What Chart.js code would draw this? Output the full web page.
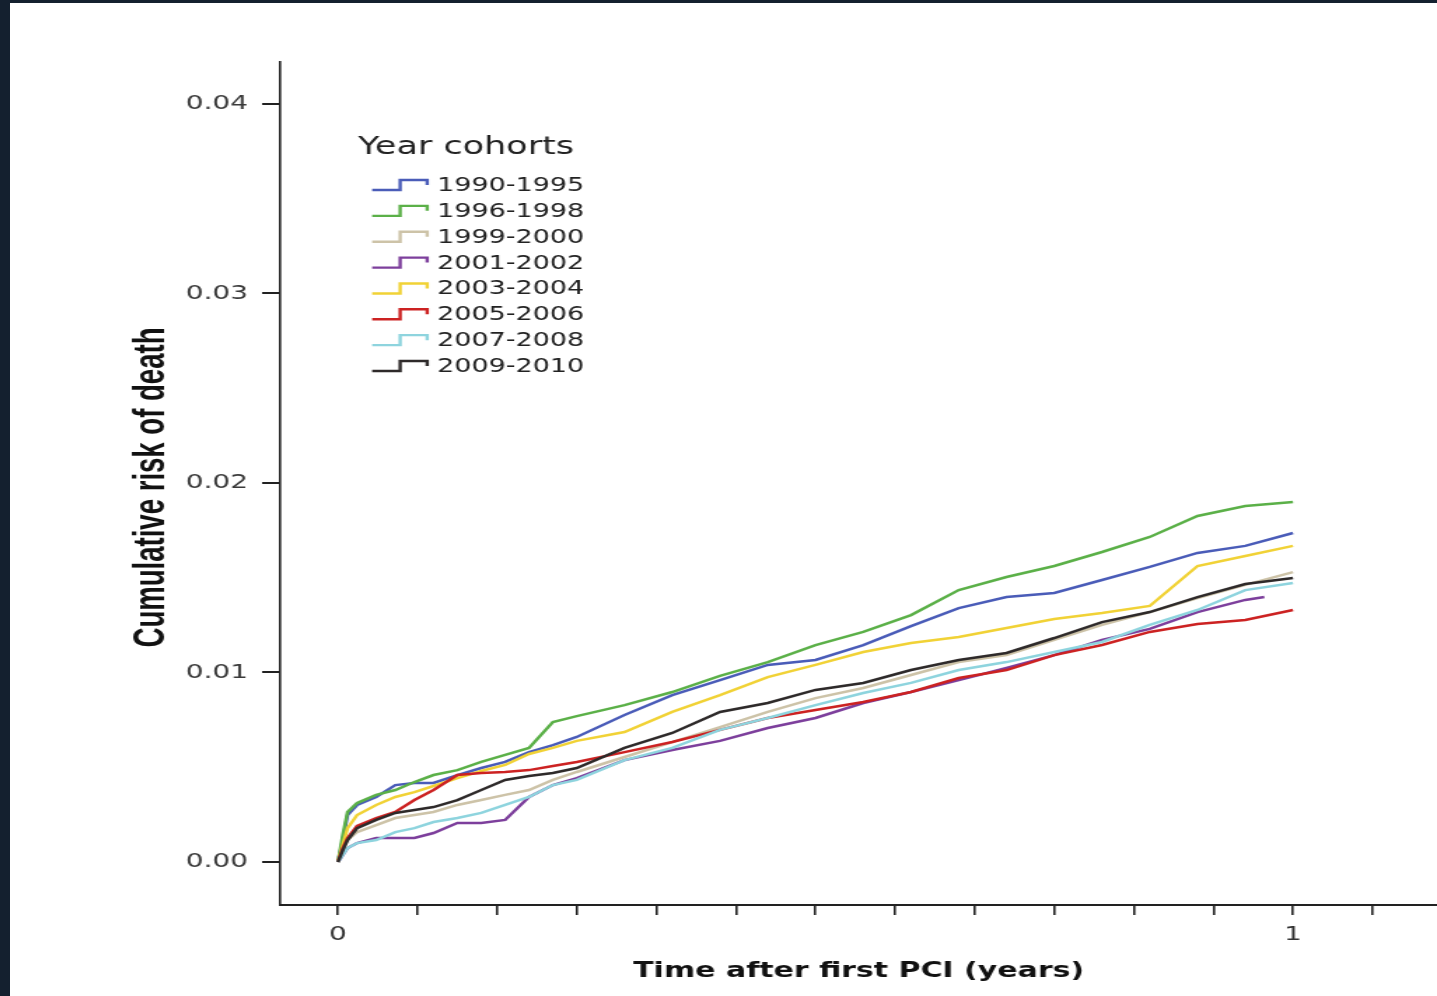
<!DOCTYPE html>
<html><head><meta charset="utf-8">
<script src="https://cdn.jsdelivr.net/npm/chart.js@4.4.1/dist/chart.umd.min.js"></script>
<style>
html,body{margin:0;padding:0;background:#14202f;width:1437px;height:996px;overflow:hidden;}
#wrap{position:absolute;left:10px;top:3px;width:1427px;height:993px;background:#fff;}
canvas{display:block;}
</style></head><body>
<div id="wrap"><canvas id="c" width="1019" height="993" style="width:1427px;height:993px;"></canvas></div>
<script>
// ---- data (time in years, cumulative risk) ----
const times = [0, 0.005, 0.01, 0.02, 0.04, 0.06, 0.08, 0.1, 0.125, 0.15, 0.175, 0.2, 0.225, 0.25, 0.3, 0.35, 0.4, 0.45, 0.5, 0.55, 0.6, 0.65, 0.7, 0.75, 0.8, 0.85, 0.9, 0.95, 1.0];
const purpleTimes = [0, 0.005, 0.01, 0.02, 0.04, 0.06, 0.08, 0.1, 0.125, 0.15, 0.175, 0.2, 0.225, 0.25, 0.3, 0.35, 0.4, 0.45, 0.5, 0.55, 0.6, 0.65, 0.7, 0.75, 0.8, 0.85, 0.9, 0.95, 0.97];

const cohorts = ['1990-1995', '1996-1998', '1999-2000', '2001-2002', '2003-2004', '2005-2006', '2007-2008', '2009-2010'];

const risk1990_1995 = [0, .00116, .00248, .00301, .00343, .00406, .00417, .00417, .00459, .00496, .00528, .00580, .00617, .00660, .00776, .00881, .00960, .01040, .01066, .01145, .01245, .01340, .01398, .01420, .01488, .01557, .01631, .01668, .01736];
const risk1996_1998 = [0, .00142, .00264, .00311, .00354, .00380, .00422, .00459, .00485, .00528, .00565, .00602, .00739, .00770, .00828, .00897, .00982, .01055, .01145, .01214, .01303, .01435, .01504, .01562, .01636, .01715, .01826, .01879, .01900];
const risk1999_2000 = [0, .00063, .00116, .00158, .00195, .00232, .00248, .00264, .00301, .00327, .00354, .00380, .00433, .00475, .00554, .00633, .00712, .00792, .00865, .00918, .00987, .01055, .01092, .01172, .01251, .01319, .01393, .01462, .01530];
const risk2001_2002 = [0, .00037, .00074, .00100, .00127, .00127, .00127, .00153, .00206, .00206, .00222, .00343, .00406, .00443, .00538, .00591, .00639, .00707, .00760, .00839, .00897, .00960, .01024, .01092, .01172, .01230, .01319, .01383, .01398];
const risk2003_2004 = [0, .00090, .00179, .00248, .00301, .00343, .00369, .00401, .00443, .00480, .00512, .00570, .00602, .00639, .00686, .00792, .00881, .00976, .01040, .01108, .01156, .01187, .01235, .01282, .01314, .01351, .01562, .01615, .01668];
const risk2005_2006 = [0, .00074, .00127, .00190, .00232, .00264, .00327, .00380, .00459, .00470, .00475, .00485, .00507, .00528, .00580, .00633, .00697, .00760, .00802, .00844, .00897, .00971, .01013, .01092, .01145, .01214, .01256, .01277, .01330];
const risk2007_2008 = [0, .00037, .00074, .00100, .00116, .00158, .00179, .00211, .00232, .00259, .00301, .00343, .00406, .00433, .00538, .00602, .00697, .00760, .00828, .00892, .00945, .01013, .01055, .01108, .01161, .01251, .01330, .01435, .01472];
const risk2009_2010 = [0, .00063, .00116, .00179, .00222, .00259, .00274, .00290, .00327, .00380, .00433, .00454, .00470, .00496, .00602, .00681, .00792, .00839, .00908, .00945, .01013, .01066, .01103, .01182, .01266, .01319, .01398, .01467, .01499];

const yTickValues = [0, 0.01, 0.02, 0.03, 0.04];
const xTickMonths = [0, 1, 2, 3, 4, 5, 6, 7, 8, 9, 10, 11, 12, 13];
const xTickLabels = {0: '0', 12: '1'};
const legendTitle = 'Year cohorts';
const xTitle = 'Time after first PCI (years)';
const yTitle = 'Cumulative risk of death';

// ---- styles ----
const seriesColors = ['#4a5cb8', '#5bb048', '#cdc3a8', '#7d3f9c', '#f1d236', '#cc2222', '#8ed4de', '#2e2a2a'];

const seriesValues = [risk1990_1995, risk1996_1998, risk1999_2000, risk2001_2002, risk2003_2004, risk2005_2006, risk2007_2008, risk2009_2010];
const seriesTimes = [times, times, times, purpleTimes, times, times, times, times];

const datasets = cohorts.map((name, i) => ({
  label: name,
  data: seriesValues[i].map((v, k) => ({x: seriesTimes[i][k], y: v})),
  borderColor: seriesColors[i],
  backgroundColor: seriesColors[i],
  borderWidth: 2.5,
  pointRadius: 0,
  tension: 0,
  fill: false,
  order: cohorts.length - i
}));

const legendPlugin = {
  id: 'cohortLegend',
  afterDraw(chart) {
    const ctx = chart.ctx;
    ctx.save();
    ctx.textBaseline = 'middle';
    ctx.textAlign = 'left';
    ctx.fillStyle = '#222';
    ctx.font = '25px "DejaVu Sans"';
    ctx.fillText(legendTitle, 248.6, 144);
    ctx.font = '19.3px "DejaVu Sans"';
    chart.data.datasets.forEach((ds, i) => {
      const y = 182 + i * 25.86;
      ctx.strokeStyle = ds.borderColor;
      ctx.lineWidth = 2.4;
      ctx.beginPath();
      ctx.moveTo(258.6, y + 5);
      ctx.lineTo(278.6, y + 5);
      ctx.lineTo(278.6, y - 5);
      ctx.lineTo(297.9, y - 5);
      ctx.lineTo(297.9, y);
      ctx.stroke();
      ctx.fillStyle = '#222';
      ctx.fillText(ds.label, 305, y + 1);
    });
    // y-axis title (condensed bold sans, rotated)
    const area = chart.chartArea;
    ctx.translate(101.4, (area.top + area.bottom) / 2 + 4);
    ctx.rotate(-Math.PI / 2);
    ctx.font = 'bold 32px "Liberation Sans"';
    const w = ctx.measureText(yTitle).width;
    ctx.scale(320 / w, 1);
    ctx.textAlign = 'center';
    ctx.fillStyle = '#111';
    ctx.fillText(yTitle, 0, 0);
    ctx.restore();
  }
};

new Chart(document.getElementById('c'), {
  type: 'line',
  data: {datasets},
  plugins: [legendPlugin],
  options: {
    responsive: false,
    devicePixelRatio: 1,
    animation: false,
    layout: {padding: {top: 59, left: 0, right: 0, bottom: 0}},
    plugins: {legend: {display: false}, tooltip: {enabled: false}},
    scales: {
      x: {
        type: 'linear',
        min: -0.06044,
        max: 1.15079,
        afterFit(s) { s.height = 91; },
        afterBuildTicks(s) { s.ticks = xTickMonths.map(m => ({value: m / 12})); },
        ticks: {
          autoSkip: false,
          maxRotation: 0,
          padding: 8,
          color: '#333',
          font: {family: 'DejaVu Sans', size: 20},
          callback(v, idx) { const m = xTickMonths[idx]; return xTickLabels[m] !== undefined ? xTickLabels[m] : ''; }
        },
        grid: {drawOnChartArea: false, drawTicks: true, tickLength: 10, color: '#222', lineWidth: 1.6},
        border: {display: true, color: '#222', width: 2},
        title: {display: true, text: xTitle, color: '#111', font: {family: 'DejaVu Sans', size: 21.4, weight: 'bold'}, padding: {top: 0, bottom: 12}}
      },
      y: {
        type: 'linear',
        min: -0.002269,
        max: 0.042216,
        afterFit(s) { s.width = 193; },
        afterBuildTicks(s) { s.ticks = yTickValues.map(v => ({value: v})); },
        ticks: {
          padding: 10,
          color: '#3a3a3a',
          font: {family: 'DejaVu Sans', size: 20},
          callback(v) { return Number(v).toFixed(2); }
        },
        grid: {drawOnChartArea: false, drawTicks: true, tickLength: 13, color: '#222', lineWidth: 2},
        border: {display: true, color: '#222', width: 1.6},
        title: {display: false}
      }
    }
  }
});
</script>
</body></html>
